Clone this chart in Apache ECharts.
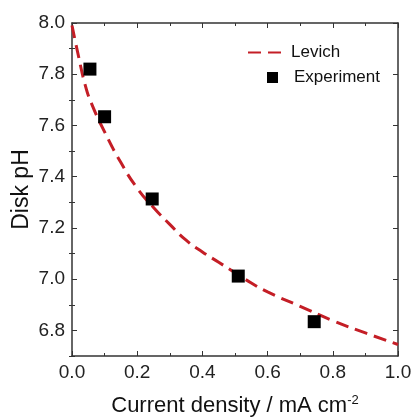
<!DOCTYPE html>
<html>
<head>
<meta charset="utf-8">
<script src="https://cdn.jsdelivr.net/npm/echarts@6/dist/echarts.min.js"></script>
<style>
  html, body { margin: 0; padding: 0; background: #fff; }
  #chart { width: 413px; height: 417px; }
</style>
</head>
<body>
<div id="chart"></div>
<script>
// Levich curve
var levichX = [0, 0.02, 0.04, 0.06, 0.1, 0.15, 0.2, 0.25, 0.3, 0.35, 0.4, 0.45, 0.5, 0.55, 0.6, 0.7, 0.8, 0.9, 1.0]
var levichY = [7.99, 7.87, 7.76, 7.685, 7.575, 7.455, 7.355, 7.28, 7.214, 7.152, 7.106, 7.066, 7.025, 6.985, 6.95, 6.894, 6.838, 6.79, 6.745]

// experiment points
var expX = [0.055, 0.1, 0.246, 0.51, 0.743]
var expY = [7.82, 7.634, 7.313, 7.012, 6.834]

// y ticks
var yMajor = [6.8, 7.0, 7.2, 7.4, 7.6, 7.8, 8.0]
var yMinor = [6.7, 6.9, 7.1, 7.3, 7.5, 7.7, 7.9]

var font = 'Liberation Sans, Arial, sans-serif'
var axisColor = '#333'
var red = '#c41e26'

function pairs(xs, ys) {
  var out = []
  for (var i = 0; i < xs.length; i++) out.push([xs[i], ys[i]])
  return out
}

var chart = echarts.init(document.getElementById('chart'))

var yBase = {
  type: 'value',
  min: 6.7,
  max: 8.0,
  interval: 0.1,
  splitLine: { show: false },
  axisLine: { show: true, onZero: false, lineStyle: { color: axisColor, width: 1.5 } }
}

chart.setOption({
  animation: false,
  backgroundColor: '#fff',
  grid: { left: 72, right: 15, top: 23, bottom: 61, outerBoundsMode: 'none' },
  legend: [
    {
      data: ['Levich'],
      left: 242,
      top: 39,
      itemWidth: 38,
      itemHeight: 10,
      itemStyle: { opacity: 0 },
      textStyle: { fontFamily: font, fontSize: 17, color: '#111' }
    },
    {
      data: ['Experiment'],
      left: 262,
      top: 64,
      itemWidth: 11,
      itemHeight: 11,
      itemStyle: { opacity: 1 },
      textStyle: { fontFamily: font, fontSize: 17, color: '#111', padding: [0, 0, 0, 11] }
    }
  ],
  xAxis: [
    {
      type: 'value',
      min: 0,
      max: 1,
      interval: 0.2,
      name: '{a|Current density / mA cm}{s|-2}',
      nameLocation: 'middle',
      nameGap: 38,
      nameMoveOverlap: false,
      nameTextStyle: {
        rich: {
          a: { fontFamily: font, fontSize: 22, color: '#111' },
          s: { fontFamily: font, fontSize: 13, color: '#111', verticalAlign: 'top', padding: [0, 0, 11, 0] }
        }
      },
      splitLine: { show: false },
      axisLine: { onZero: false, lineStyle: { color: axisColor, width: 1.5 } },
      axisTick: { inside: true, length: 5, lineStyle: { color: axisColor } },
      minorTick: { show: true, splitNumber: 2, length: 3, lineStyle: { color: axisColor } },
      axisLabel: {
        margin: 7,
        fontFamily: font,
        fontSize: 19,
        color: '#222',
        formatter: function (v) { return v.toFixed(1) }
      }
    },
    {
      type: 'value',
      position: 'top',
      min: 0,
      max: 1,
      interval: 0.2,
      splitLine: { show: false },
      axisLine: { onZero: false, lineStyle: { color: axisColor, width: 1.5 } },
      axisTick: { inside: true, length: 5, lineStyle: { color: axisColor } },
      minorTick: { show: true, splitNumber: 2, length: 3, lineStyle: { color: axisColor } },
      axisLabel: { show: false }
    }
  ],
  yAxis: [
    Object.assign({}, yBase, {
      position: 'left',
      name: 'Disk pH',
      nameLocation: 'middle',
      nameGap: 39,
      nameMoveOverlap: false,
      nameTextStyle: { fontFamily: font, fontSize: 23, color: '#111' },
      axisTick: { inside: true, length: 5, customValues: yMajor, lineStyle: { color: axisColor } },
      axisLabel: {
        margin: 7,
        fontFamily: font,
        fontSize: 19,
        color: '#222',
        customValues: yMajor,
        formatter: function (v) { return v.toFixed(1) }
      }
    }),
    Object.assign({}, yBase, {
      position: 'right',
      axisTick: { inside: true, length: 5, customValues: yMajor, lineStyle: { color: axisColor } },
      axisLabel: { show: false }
    }),
    // minor ticks, left and right
    Object.assign({}, yBase, {
      position: 'left',
      axisLine: { show: false },
      axisTick: { inside: true, length: 3, customValues: yMinor, lineStyle: { color: axisColor } },
      axisLabel: { show: false }
    }),
    Object.assign({}, yBase, {
      position: 'right',
      axisLine: { show: false },
      axisTick: { inside: true, length: 3, customValues: yMinor, lineStyle: { color: axisColor } },
      axisLabel: { show: false }
    })
  ],
  series: [
    {
      name: 'Levich',
      type: 'line',
      smooth: true,
      symbol: 'none',
      z: 2,
      lineStyle: { color: red, width: 3, type: [13, 7] },
      itemStyle: { color: red },
      data: pairs(levichX, levichY)
    },
    {
      name: 'Experiment',
      type: 'scatter',
      symbol: 'rect',
      symbolSize: 13,
      z: 3,
      itemStyle: { color: '#000', opacity: 1 },
      data: pairs(expX, expY)
    }
  ]
})
</script>
</body>
</html>
